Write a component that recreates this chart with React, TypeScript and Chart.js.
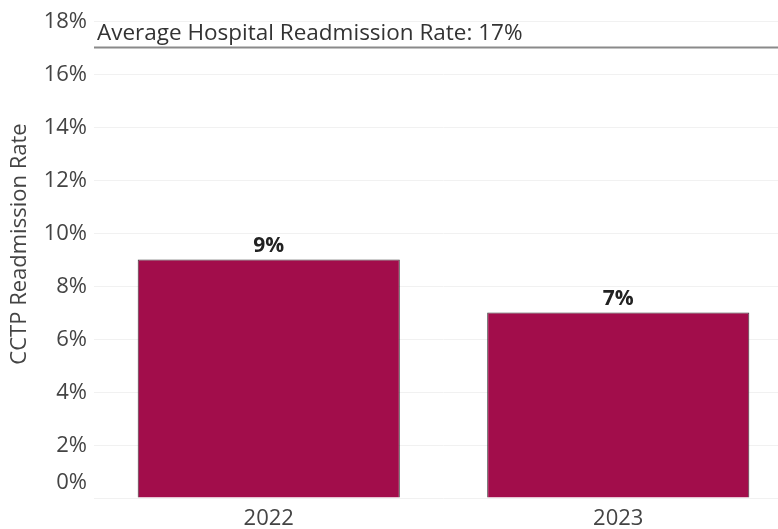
import React, { useEffect, useRef } from "react";
import { Chart, registerables } from "chart.js";

Chart.register(...registerables);

const categories = ["2022", "2023"];
const readmissionRates = [9, 7];
const averageHospitalRate = 17;
const averageLabel = "Average Hospital Readmission Rate: 17%";
const yTicks = [0, 2, 4, 6, 8, 10, 12, 14, 16, 18];
const yTitle = "CCTP Readmission Rate";

const FONT = "'Open Sans', 'Noto Sans', sans-serif";

const overlayPlugin = {
  id: "overlay",
  afterDatasetsDraw(chart: any) {
    const { ctx, chartArea, scales } = chart;
    const y = scales.y;
    ctx.save();
    // y tick labels
    ctx.font = `22px ${FONT}`;
    ctx.fillStyle = "#444444";
    ctx.textAlign = "right";
    ctx.textBaseline = "middle";
    yTicks.forEach((v) => {
      let py = y.getPixelForValue(v);
      py = Math.min(py, chartArea.bottom - 16);
      ctx.fillText(`${v}%`, 87, py + 1);
    });
    // y title
    ctx.save();
    ctx.translate(20, 244);
    ctx.rotate(-Math.PI / 2);
    ctx.textAlign = "center";
    ctx.textBaseline = "middle";
    ctx.fillStyle = "#444444";
    ctx.font = `22px ${FONT}`;
    ctx.fillText(yTitle, 0, 0);
    ctx.restore();
    // average line
    const ay = y.getPixelForValue(averageHospitalRate);
    ctx.strokeStyle = "#8a8a8a";
    ctx.lineWidth = 2;
    ctx.beginPath();
    ctx.moveTo(chartArea.left, ay);
    ctx.lineTo(chartArea.right, ay);
    ctx.stroke();
    ctx.fillStyle = "#333333";
    ctx.textAlign = "left";
    ctx.textBaseline = "alphabetic";
    ctx.font = `22.5px ${FONT}`;
    ctx.fillText(averageLabel, chartArea.left + 3, ay - 8);
    // data labels
    const meta = chart.getDatasetMeta(0);
    ctx.font = `bold 21px ${FONT}`;
    ctx.fillStyle = "#222222";
    ctx.textAlign = "center";
    ctx.textBaseline = "alphabetic";
    meta.data.forEach((bar: any, i: number) => {
      ctx.fillText(`${readmissionRates[i]}%`, bar.x, bar.y - 8);
    });
    ctx.restore();
  },
};

export default function App() {
  const ref = useRef<HTMLCanvasElement>(null);
  useEffect(() => {
    if (!ref.current) return;
    const chart = new Chart(ref.current, {
      type: "bar",
      data: {
        labels: categories,
        datasets: [
          {
            data: readmissionRates,
            backgroundColor: "#A20D4B",
            borderColor: "#3a3a3a",
            borderWidth: 1,
            categoryPercentage: 1,
            barPercentage: 0.75,
          },
        ],
      },
      options: {
        animation: false,
        responsive: false,
        devicePixelRatio: 1,
        layout: { padding: { top: 21, left: 0, right: 0, bottom: 0 } },
        plugins: {
          legend: { display: false },
          tooltip: { enabled: false },
        },
        scales: {
          x: {
            grid: { display: false, drawTicks: false },
            border: { display: false },
            ticks: {
              font: { family: FONT, size: 22 },
              color: "#444444",
              padding: 8,
            },
            afterFit: (s: any) => {
              s.height = 31;
            },
          },
          y: {
            min: 0,
            max: 18,
            afterBuildTicks: (s: any) => {
              s.ticks = yTicks.map((v) => ({ value: v }));
            },
            grid: { color: "#f1f1f1", lineWidth: 1, drawTicks: false },
            border: { display: false },
            ticks: { display: false },
            afterFit: (s: any) => {
              s.width = 94;
            },
          },
        },
      },
      plugins: [overlayPlugin],
    });
    return () => chart.destroy();
  }, []);
  return (
    <div
      style={{
        position: "absolute",
        left: 0,
        top: 0,
        width: 778,
        height: 529,
        overflow: "hidden",
        background: "#ffffff",
      }}
    >
      <canvas ref={ref} width={793} height={529} style={{ display: "block" }} />
    </div>
  );
}
